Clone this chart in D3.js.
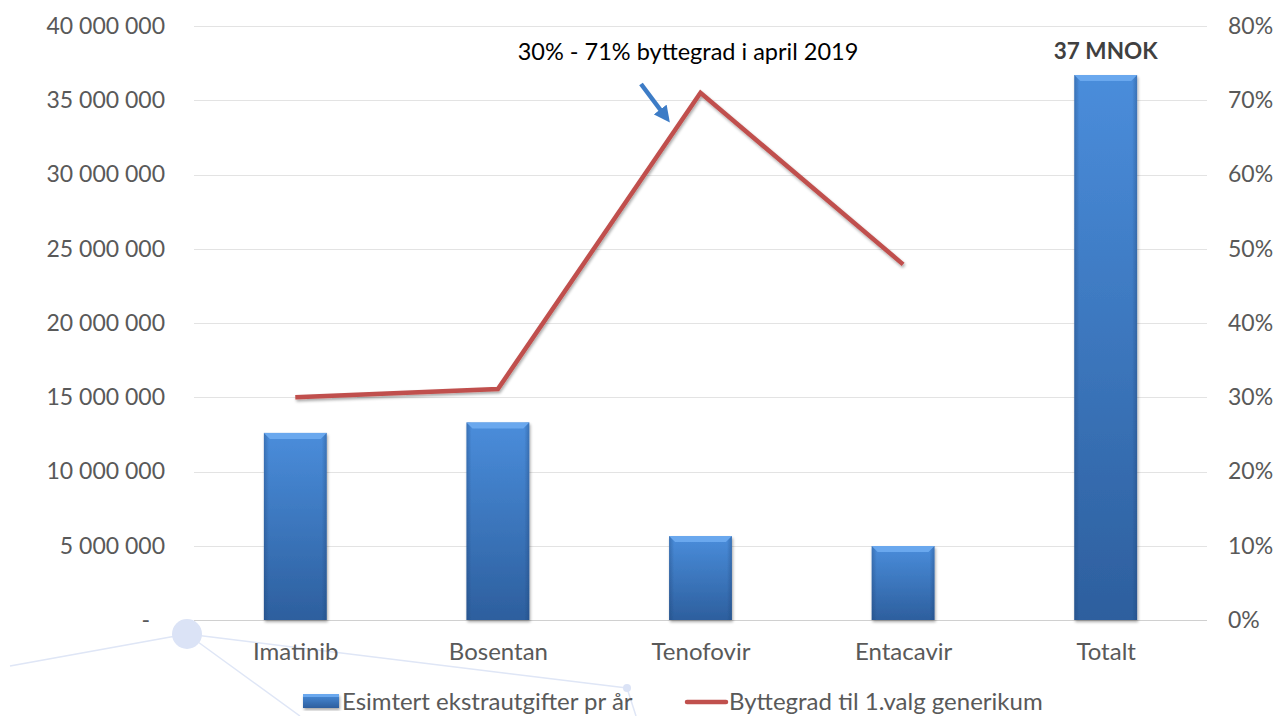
<!DOCTYPE html>
<html>
<head>
<meta charset="utf-8">
<script src="https://cdn.jsdelivr.net/npm/d3@7"></script>
<style>
body { margin: 0; background: #fff; }
svg text { font-family: Lato, "Open Sans", sans-serif; }
</style>
</head>
<body>
<script>
var categories = ["Imatinib", "Bosentan", "Tenofovir", "Entacavir", "Totalt"];
var costs = [12600000, 13300000, 5650000, 4980000, 36700000];
var rates = [0.30, 0.311, 0.71, 0.479, null];
var leftTicks = [0, 5000000, 10000000, 15000000, 20000000, 25000000, 30000000, 35000000, 40000000];
var rightTicks = [0, 0.1, 0.2, 0.3, 0.4, 0.5, 0.6, 0.7, 0.8];
var legendLabels = ["Esimtert ekstrautgifter pr år", "Byttegrad til 1.valg generikum"];

(function(d3) {
	var width = 1279, height = 716;
	var pLeft = 194, pRight = 1207, pTop = 26, pBottom = 620;
	var fs = "23px";

	var svg = d3.select("body").append("svg")
		.attr("width", width)
		.attr("height", height);

	var defs = svg.append("defs");
	var grad = defs.append("linearGradient").attr("id", "barGrad")
		.attr("x1", 0).attr("y1", 0).attr("x2", 0).attr("y2", 1);
	grad.append("stop").attr("offset", "0%").attr("stop-color", "#4a8ddb");
	grad.append("stop").attr("offset", "100%").attr("stop-color", "#2d5f9e");
	var side = defs.append("linearGradient").attr("id", "sideGrad")
		.attr("x1", 0).attr("y1", 0).attr("x2", 1).attr("y2", 0);
	side.append("stop").attr("offset", "0%").attr("stop-color", "#1d3f70").attr("stop-opacity", 0.35);
	side.append("stop").attr("offset", "8%").attr("stop-color", "#1d3f70").attr("stop-opacity", 0);
	side.append("stop").attr("offset", "92%").attr("stop-color", "#1d3f70").attr("stop-opacity", 0);
	side.append("stop").attr("offset", "100%").attr("stop-color", "#1d3f70").attr("stop-opacity", 0.35);
	var shadow = defs.append("filter").attr("id", "shadow").attr("x", "-20%").attr("y", "-20%").attr("width", "140%").attr("height", "140%");
	shadow.append("feGaussianBlur").attr("in", "SourceAlpha").attr("stdDeviation", 1.5);
	shadow.append("feOffset").attr("dx", 1).attr("dy", 1.5).attr("result", "b");
	shadow.append("feComponentTransfer").append("feFuncA").attr("type", "linear").attr("slope", 0.35);
	var merge = shadow.append("feMerge");
	merge.append("feMergeNode");
	merge.append("feMergeNode").attr("in", "SourceGraphic");

	var x = d3.scaleBand().domain(categories).range([pLeft, pRight]).paddingInner(0.69).paddingOuter(0.345);
	var xc = d3.scalePoint().domain(categories).range([pLeft, pRight]).padding(0.5);
	var y = d3.scaleLinear().domain([0, 40000000]).range([pBottom, pTop]);
	var y2 = d3.scaleLinear().domain([0, 0.8]).range([pBottom, pTop]);

	// decoration in the bottom left
	var deco = svg.append("g").attr("stroke", "#dfe6f6").attr("stroke-width", 1.5);
	deco.append("line").attr("x1", 187).attr("y1", 634).attr("x2", 10).attr("y2", 666);
	deco.append("line").attr("x1", 187).attr("y1", 634).attr("x2", 300).attr("y2", 716);
	deco.append("line").attr("x1", 187).attr("y1", 634).attr("x2", 627).attr("y2", 688);
	deco.append("line").attr("x1", 627).attr("y1", 688).attr("x2", 636).attr("y2", 716);
	svg.append("circle").attr("cx", 187).attr("cy", 634).attr("r", 15).attr("fill", "#dbe3f6");
	svg.append("circle").attr("cx", 627).attr("cy", 688).attr("r", 4).attr("fill", "#dbe3f6");

	// grid
	svg.append("g").selectAll("line").data(leftTicks).join("line")
		.attr("x1", pLeft).attr("x2", pRight)
		.attr("y1", function(d) { return Math.round(y(d)) + 0.5; })
		.attr("y2", function(d) { return Math.round(y(d)) + 0.5; })
		.attr("stroke", function(d) { return d === 0 ? "#d0d0d0" : "#e3e3e3"; })
		.attr("stroke-width", 1);

	// left axis
	var fmt = function(d) { return d === 0 ? "-" : d3.format(",")(d).replace(/,/g, " "); };
	var yAxis = svg.append("g").attr("transform", "translate(" + pLeft + ",0)")
		.call(d3.axisLeft(y).tickValues(leftTicks).tickFormat(fmt).tickSize(0).tickPadding(29));
	yAxis.select(".domain").remove();
	yAxis.selectAll("text").attr("font-size", fs).attr("fill", "#595959");
	yAxis.selectAll("text").filter(function(d) { return d === 0; }).attr("dx", -15);

	// right axis
	var yAxis2 = svg.append("g").attr("transform", "translate(" + pRight + ",0)")
		.call(d3.axisRight(y2).tickValues(rightTicks).tickFormat(d3.format(".0%")).tickSize(0).tickPadding(21));
	yAxis2.select(".domain").remove();
	yAxis2.selectAll("text").attr("font-size", fs).attr("fill", "#595959");

	// x axis labels
	var xAxis = svg.append("g").attr("transform", "translate(0," + pBottom + ")")
		.call(d3.axisBottom(xc).tickSize(0).tickPadding(23));
	xAxis.select(".domain").remove();
	xAxis.selectAll("text").attr("font-size", "24px").attr("fill", "#595959");

	// bars
	var bars = svg.append("g").selectAll("g").data(costs).join("g")
		.attr("filter", "url(#shadow)");
	bars.append("rect")
		.attr("x", function(d, i) { return x(categories[i]); })
		.attr("y", function(d) { return y(d); })
		.attr("width", x.bandwidth())
		.attr("height", function(d) { return pBottom - y(d); })
		.attr("fill", "url(#barGrad)");
	bars.append("rect")
		.attr("x", function(d, i) { return x(categories[i]); })
		.attr("y", function(d) { return y(d); })
		.attr("width", x.bandwidth())
		.attr("height", function(d) { return pBottom - y(d); })
		.attr("fill", "url(#sideGrad)");
	bars.append("path")
		.attr("d", function(d, i) {
			var x0 = x(categories[i]), x1 = x0 + x.bandwidth(), t = y(d), b = 6;
			return "M" + x0 + "," + t + "L" + x1 + "," + t + "L" + (x1 - b) + "," + (t + b) + "L" + (x0 + b) + "," + (t + b) + "Z";
		})
		.attr("fill", "#6aa8ee");

	// line
	var line = d3.line()
		.defined(function(d) { return d != null; })
		.x(function(d, i) { return xc(categories[i]); })
		.y(function(d) { return y2(d); });
	svg.append("path").datum(rates)
		.attr("d", line)
		.attr("fill", "none")
		.attr("stroke", "#c0504d")
		.attr("stroke-width", 4.5)
		.attr("stroke-linejoin", "miter")
		.attr("filter", "url(#shadow)");

	// total label
	svg.append("text")
		.attr("x", xc("Totalt"))
		.attr("y", y(costs[4]) - 16)
		.attr("text-anchor", "middle")
		.attr("font-size", "22.5px")
		.attr("font-weight", "bold")
		.attr("fill", "#404040")
		.text("37 MNOK");

	// annotation
	svg.append("text")
		.attr("x", 688)
		.attr("y", 60)
		.attr("text-anchor", "middle")
		.attr("font-size", "23.5px")
		.attr("fill", "#000")
		.text("30% - 71% byttegrad i april 2019");
	defs.append("marker").attr("id", "arrow")
		.attr("viewBox", "0 0 10 10").attr("refX", 5).attr("refY", 5)
		.attr("markerWidth", 3.6).attr("markerHeight", 3.6)
		.attr("orient", "auto")
		.append("path").attr("d", "M0,0L10,5L0,10Z").attr("fill", "#3d7cc6");
	svg.append("line")
		.attr("x1", 641).attr("y1", 84).attr("x2", 665).attr("y2", 116)
		.attr("stroke", "#3d7cc6").attr("stroke-width", 4.5)
		.attr("marker-end", "url(#arrow)");

	// legend
	var lg = svg.append("g");
	lg.append("rect").attr("x", 303).attr("y", 694).attr("width", 36).attr("height", 14)
		.attr("fill", "url(#barGrad)").attr("filter", "url(#shadow)");
	lg.append("rect").attr("x", 303).attr("y", 694).attr("width", 36).attr("height", 3).attr("fill", "#6aa8ee");
	lg.append("text").attr("x", 342).attr("y", 710).attr("font-size", "24px").attr("fill", "#595959").text(legendLabels[0]);
	lg.append("line").attr("x1", 687).attr("x2", 726).attr("y1", 702).attr("y2", 702)
		.attr("stroke", "#c0504d").attr("stroke-width", 4.5).attr("stroke-linecap", "round");
	lg.append("text").attr("x", 729).attr("y", 710).attr("font-size", "24px").attr("fill", "#595959").text(legendLabels[1]);
})(d3);
</script>
</body>
</html>
